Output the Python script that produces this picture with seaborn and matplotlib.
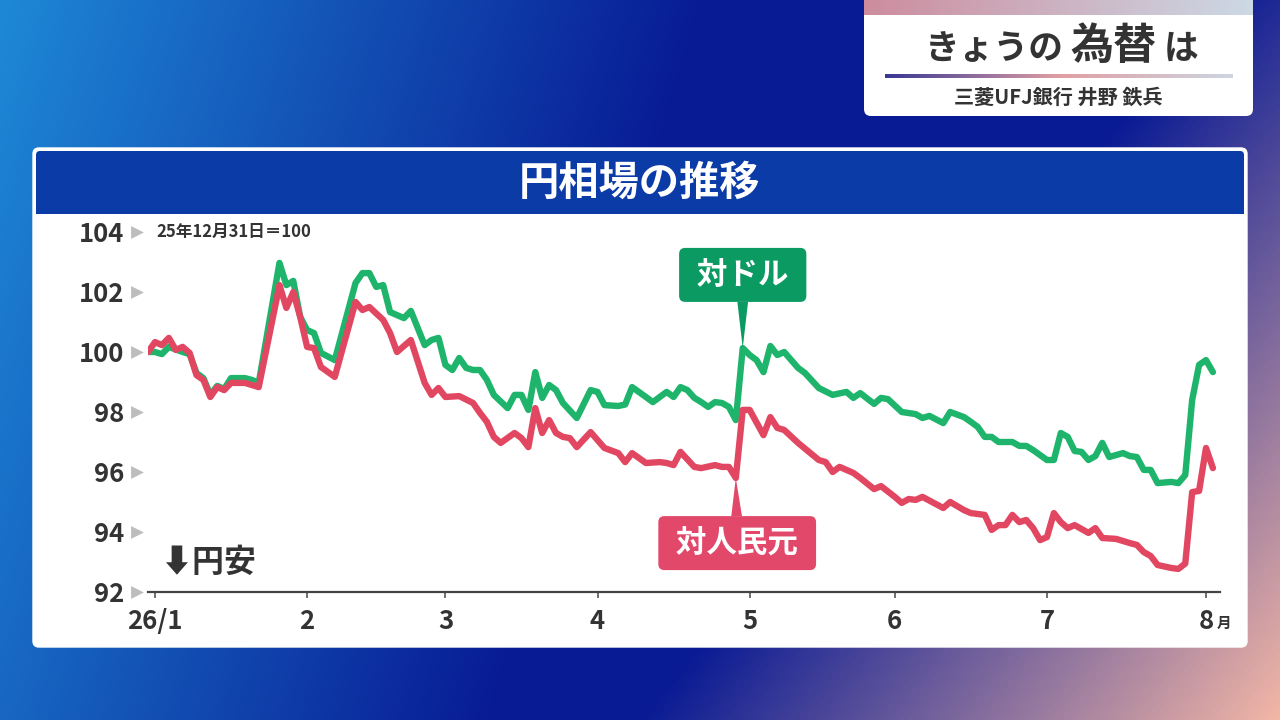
import numpy as np
import pandas as pd
import matplotlib.pyplot as plt
import matplotlib.transforms as mtransforms
import seaborn as sns
from matplotlib.patches import FancyBboxPatch, Rectangle

# trading day number counted from 2025-12-31 (=0), index: 25/12/31 = 100
usd_day = [0, 1, 2, 3, 5, 6, 7, 8, 9, 10, 11, 12, 14, 15, 16, 19, 20, 21, 22, 23,
           24, 25, 27, 30, 31, 32, 33, 34, 35, 37, 38, 40, 41, 42, 43, 44, 45, 46, 47, 48,
           49, 50, 52, 53, 54, 55, 56, 57, 58, 59, 60, 62, 64, 65, 66, 68, 69, 70, 72, 73,
           75, 76, 77, 78, 79, 80, 81, 82, 83, 84, 85, 86, 87, 88, 89, 90, 91, 92, 94, 95,
           97, 99, 101, 102, 103, 105, 106, 107, 109, 111, 112, 113, 115, 116, 118, 119, 120, 121, 122, 123,
           125, 126, 127, 128, 130, 131, 132, 133, 134, 135, 136, 137, 138, 139, 141, 142, 143, 144, 145, 146,
           148, 149, 150, 151, 152, 153, 154]
usd_value = [100.0, 100.0, 99.93, 100.17, 100.0, 99.93, 99.3, 99.13, 98.57, 98.87,
             98.77, 99.13, 99.13, 99.07, 98.97, 102.97, 102.23, 102.37, 101.17, 100.73,
             100.63, 99.97, 99.73, 102.3, 102.63, 102.63, 102.17, 102.23, 101.33, 101.13,
             101.37, 100.23, 100.4, 100.47, 99.57, 99.4, 99.8, 99.47, 99.4, 99.4,
             99.07, 98.57, 98.13, 98.57, 98.57, 98.07, 99.33, 98.47, 98.9, 98.73,
             98.3, 97.8, 98.73, 98.67, 98.23, 98.2, 98.25, 98.83, 98.5, 98.33,
             98.67, 98.5, 98.83, 98.73, 98.47, 98.33, 98.17, 98.33, 98.3, 98.17,
             97.73, 100.13, 99.9, 99.73, 99.33, 100.2, 99.9, 100.0, 99.47, 99.3,
             98.8, 98.57, 98.67, 98.47, 98.63, 98.27, 98.47, 98.43, 98.0, 97.93,
             97.8, 97.87, 97.63, 98.0, 97.83, 97.67, 97.5, 97.17, 97.17, 97.0,
             97.0, 96.87, 96.87, 96.73, 96.4, 96.4, 97.3, 97.17, 96.7, 96.67,
             96.4, 96.53, 96.97, 96.5, 96.63, 96.53, 96.5, 96.07, 96.07, 95.63,
             95.67, 95.63, 95.9, 98.4, 99.57, 99.73, 99.33]

cny_day = [0, 1, 2, 3, 4, 5, 6, 7, 8, 9, 10, 11, 12, 14, 16, 19, 20, 21, 22, 23,
           24, 25, 27, 30, 31, 32, 34, 35, 36, 38, 40, 41, 42, 43, 45, 47, 48, 49, 50, 51,
           53, 54, 55, 56, 57, 58, 59, 60, 61, 62, 64, 66, 68, 69, 70, 72, 74, 75, 76, 77,
           79, 80, 82, 83, 84, 85, 86, 87, 89, 90, 91, 92, 94, 97, 98, 99, 100, 101, 102, 103,
           105, 106, 108, 109, 110, 111, 112, 115, 116, 118, 119, 120, 121, 122, 123, 124, 125, 126, 127, 128,
           129, 130, 131, 132, 133, 134, 136, 137, 138, 140, 142, 143, 144, 145, 146, 148, 149, 150, 151, 152,
           153, 154]
cny_value = [100.0, 100.33, 100.23, 100.47, 100.07, 100.17, 99.97, 99.23, 99.07, 98.5,
             98.83, 98.73, 98.97, 98.97, 98.83, 102.23, 101.47, 102.0, 101.17, 100.17,
             100.13, 99.5, 99.17, 101.67, 101.4, 101.5, 101.07, 100.63, 100.0, 100.4,
             98.97, 98.57, 98.8, 98.5, 98.53, 98.3, 97.97, 97.67, 97.17, 96.97,
             97.3, 97.13, 96.83, 98.13, 97.3, 97.73, 97.3, 97.17, 97.13, 96.83,
             97.33, 96.8, 96.63, 96.33, 96.63, 96.3, 96.33, 96.3, 96.23, 96.67,
             96.17, 96.13, 96.23, 96.17, 96.17, 95.8, 98.07, 98.07, 97.23, 97.83,
             97.47, 97.4, 96.97, 96.4, 96.33, 96.0, 96.17, 96.07, 95.97, 95.8,
             95.43, 95.53, 95.17, 94.97, 95.1, 95.07, 95.17, 94.8, 95.0, 94.73,
             94.63, 94.6, 94.57, 94.07, 94.23, 94.23, 94.57, 94.33, 94.4, 94.13,
             93.73, 93.83, 94.63, 94.33, 94.13, 94.23, 93.97, 94.13, 93.8, 93.77,
             93.63, 93.57, 93.33, 93.2, 92.9, 92.8, 92.77, 92.95, 95.33, 95.37,
             96.8, 96.13]

series_names = ['対ドル', '対人民元']
y_ticks = [92, 94, 96, 98, 100, 102, 104]
month_labels = ['26/1', '2', '3', '4', '5', '6', '7', '8']

GREEN = '#1fb46b'
GREEN_BOX = '#0a9a62'
RED = '#e24762'
RED_BOX = '#e2486a'
NAVY = '#0b3ba6'
INK = '#333333'

df = pd.concat([
    pd.DataFrame({'day': usd_day, 'value': usd_value, 'series': series_names[0]}),
    pd.DataFrame({'day': cny_day, 'value': cny_value, 'series': series_names[1]}),
])

# first business day of each month -> tick positions
bdays = pd.bdate_range('2025-12-31', periods=170)
month_pos = [int(np.argmax((bdays.year == 2026) & (bdays.month == m))) for m in range(1, 9)]

sns.set_theme(style='white')
plt.rcParams['font.family'] = ['Noto Sans CJK JP', 'DejaVu Sans']

fig = plt.figure(figsize=(12.8, 7.2), dpi=100)

# ---- background in pixel coordinates
bg = fig.add_axes([0, 0, 1, 1])
bg.set_xlim(0, 1280)
bg.set_ylim(720, 0)
bg.axis('off')

u = np.linspace(0, 1, 320)[None, :]
v = np.linspace(0, 1, 180)[:, None]
navy = np.array([8, 26, 148]) / 255
light = np.array([30, 136, 214]) / 255
peach = np.array([242, 182, 166]) / 255
w_light = np.clip(1 - (u * 1.8 + v * 0.3), 0, 1)
w_peach = np.clip((u + 0.45 * v - 0.95) / 0.5, 0, 1)
w_navy = np.clip(1 - w_light - w_peach, 0, 1)
grad = (w_navy[..., None] * navy + w_light[..., None] * light + w_peach[..., None] * peach)
bg.imshow(np.clip(grad, 0, 1), extent=[0, 1280, 720, 0], aspect='auto', zorder=0)

# top-right title card
bg.add_patch(FancyBboxPatch((864, 4), 389, 112, boxstyle='round,pad=0,rounding_size=7',
                            fc='white', ec='none', zorder=1))
strip = np.linspace(0, 1, 200)[None, :, None]
strip_col = (1 - strip) * np.array([0.80, 0.55, 0.62]) + strip * np.array([0.80, 0.85, 0.90])
strip_col = np.concatenate([strip_col] * 4, axis=0)
bg.imshow(strip_col, extent=[864, 1253, 15, 0], aspect='auto', zorder=2)
line_t = np.linspace(0, 1, 200)
line_col = np.where(line_t[:, None] < 0.5,
                    (1 - line_t[:, None] * 2) * np.array([0.22, 0.22, 0.58]) + line_t[:, None] * 2 * np.array([0.88, 0.62, 0.64]),
                    (2 - line_t[:, None] * 2) * np.array([0.88, 0.62, 0.64]) + (line_t[:, None] * 2 - 1) * np.array([0.80, 0.84, 0.88]))
bg.imshow(line_col[None, :, :], extent=[885, 1233, 78, 74], aspect='auto', zorder=2)
bg.text(1064, 48, 'きょうの', ha='right', va='center', fontsize=25, fontweight='bold', color=INK, zorder=3)
bg.text(1070, 46, '為替', ha='left', va='center', fontsize=31, fontweight='bold', color=INK, zorder=3)
bg.text(1164, 48, 'は', ha='left', va='center', fontsize=25, fontweight='bold', color=INK, zorder=3)
bg.text(1058, 97, '三菱UFJ銀行 井野 鉄兵', ha='center', va='center', fontsize=14.5,
        fontweight='bold', color=INK, zorder=3)

# chart panel
bg.add_patch(FancyBboxPatch((33, 148), 1214, 499, boxstyle='round,pad=0,rounding_size=6',
                            fc='white', ec='white', lw=1, zorder=1))
bg.add_patch(FancyBboxPatch((36, 151), 1208, 63, boxstyle='round,pad=0,rounding_size=4',
                            fc=NAVY, ec='none', zorder=2))
bg.add_patch(Rectangle((36, 200), 1208, 14, fc=NAVY, ec='none', zorder=2))
bg.text(640, 183, '円相場の推移', ha='center', va='center', fontsize=29, fontweight='bold',
        color='white', zorder=3)

# ---- line chart
x0, x1 = 148, 1220
y_top, y_bot = 232, 592
ax = fig.add_axes([x0 / 1280, 1 - y_bot / 720, (x1 - x0) / 1280, (y_bot - y_top) / 720])
ax.patch.set_alpha(0)

sns.lineplot(data=df, x='day', y='value', hue='series', hue_order=series_names,
             palette=[GREEN, RED], estimator=None, linewidth=4.6, legend=False, ax=ax)
for line in ax.lines:
    line.set_solid_joinstyle('round')
    line.set_solid_capstyle('round')

day_per_px = (month_pos[-1] - month_pos[0]) / (1206 - 155)
ax.set_xlim(month_pos[0] - (155 - x0) * day_per_px, month_pos[0] + (x1 - 155) * day_per_px)
ax.set_ylim(92, 104)
ax.set_xlabel('')
ax.set_ylabel('')

ax.set_yticks(y_ticks)
ax.set_yticklabels([str(t) for t in y_ticks])
ax.tick_params(axis='y', length=0, pad=17, labelsize=18.5, labelcolor=INK)
ax.set_xticks(month_pos)
ax.set_xticklabels(month_labels)
ax.tick_params(axis='x', bottom=True, direction='out', length=4.5, width=1.2, color='#555555',
               pad=7, labelsize=18.5, labelcolor=INK)
for lab in ax.get_xticklabels() + ax.get_yticklabels():
    lab.set_fontweight('bold')

for s in ['left', 'top', 'right']:
    ax.spines[s].set_visible(False)
ax.spines['bottom'].set_color('#444444')
ax.spines['bottom'].set_linewidth(1.6)

# grey triangles next to the y labels
trans = mtransforms.blended_transform_factory(ax.transAxes, ax.transData)
ax.scatter([-11 / (x1 - x0)] * len(y_ticks), y_ticks, marker='>', s=85, color='#bdbdbd',
           transform=trans, clip_on=False, linewidths=0, zorder=3)

ax.annotate('月', xy=(month_pos[-1], 92), xytext=(8, -22), textcoords='offset points',
            fontsize=10.5, fontweight='bold', color=INK, va='center', ha='left', annotation_clip=False)
ax.text(0.008, 1.0, '25年12月31日＝100', transform=ax.transAxes, ha='left', va='center',
        fontsize=12, fontweight='bold', color=INK)
ax.text(0.012, 0.08, '⬇円安', transform=ax.transAxes, ha='left', va='center',
        fontsize=23, fontweight='bold', color=INK)

# series labels with pointers
usd_at = usd_value[usd_day.index(86)]
cny_at = cny_value[cny_day.index(85)]
ax.annotate(' 対ドル ', xy=(86, usd_at), xytext=(86, 102.57), textcoords='data',
            ha='center', va='center', fontsize=22, fontweight='bold', color='white',
            bbox=dict(boxstyle='round,pad=0.36,rounding_size=0.2', fc=GREEN_BOX, ec='none'),
            arrowprops=dict(arrowstyle='wedge,tail_width=0.35,shrink_factor=0.5', fc=GREEN_BOX,
                            ec='none', shrinkA=0, shrinkB=0), zorder=5)
ax.annotate(' 対人民元 ', xy=(85, cny_at), xytext=(85.2, 93.63), textcoords='data',
            ha='center', va='center', fontsize=22, fontweight='bold', color='white',
            bbox=dict(boxstyle='round,pad=0.36,rounding_size=0.2', fc=RED_BOX, ec='none'),
            arrowprops=dict(arrowstyle='wedge,tail_width=0.35,shrink_factor=0.5', fc=RED_BOX,
                            ec='none', shrinkA=0, shrinkB=0), zorder=5)

fig.savefig('out.png', dpi=100)
